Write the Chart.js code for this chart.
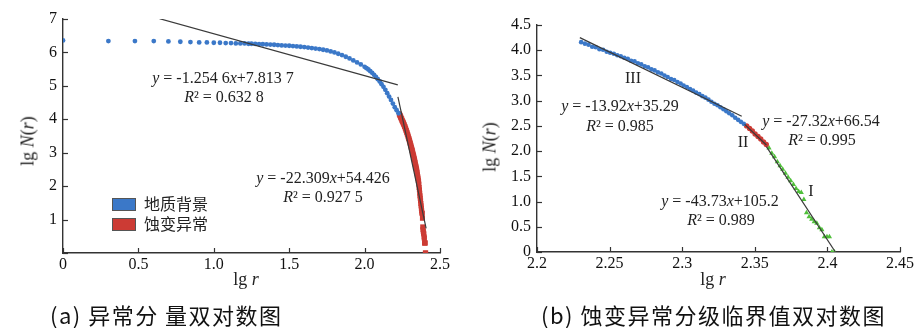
<!DOCTYPE html>
<html>
<head>
<meta charset="utf-8">
<script src="https://cdn.jsdelivr.net/npm/chart.js@4.4.0/dist/chart.umd.min.js"></script>
<style>
    body { margin: 0; background: #fff; }
    #wrap { position: relative; width: 919px; height: 328px; overflow: hidden; font-family: "Liberation Serif", serif; color: #222; }
    canvas { position: absolute; top: 0; }
    .t { position: absolute; font-size: 16px; white-space: nowrap; transform: translate(-50%, -50%); }
    .ax { position: absolute; font-size: 18px; white-space: nowrap; transform: translate(-50%, -50%); }
    .axv { transform: translate(-50%, -50%) rotate(-90deg); }
    .cap { position: absolute; top: 301px; height: 26px; line-height: 26px; font-family: "Noto Sans CJK SC", sans-serif; font-size: 22px; letter-spacing: 1.5px; white-space: nowrap; color: #111; }
    .leg { position: absolute; left: 112px; font-family: "Noto Sans CJK SC", sans-serif; font-size: 16px; color: #222; height: 20px; line-height: 20px; }
    .leg span { display: inline-block; width: 24px; height: 13px; margin-right: 8px; vertical-align: -1px; border: 1px solid #555; box-sizing: border-box; }
</style>
</head>
<body>
<div id="wrap">
    <canvas id="chartA" width="460" height="300" style="left:0"></canvas>
    <canvas id="chartB" width="459" height="300" style="left:460px"></canvas>

    <div class="t" style="left:223px;top:78px"><i>y</i> = -1.254 6<i>x</i>+7.813 7</div>
    <div class="t" style="left:224px;top:97px"><i>R</i>² = 0.632 8</div>
    <div class="t" style="left:323px;top:178px"><i>y</i> = -22.309<i>x</i>+54.426</div>
    <div class="t" style="left:323px;top:197px"><i>R</i>² = 0.927 5</div>
    <div class="leg" style="top:193px"><span style="background:#3b78c8"></span>地质背景</div>
    <div class="leg" style="top:213px"><span style="background:#cc3b34"></span>蚀变异常</div>
    <div class="ax" style="left:246px;top:279px">lg <i>r</i></div>
    <div class="ax axv" style="left:28px;top:141px">lg <i>N</i>(<i>r</i>)</div>

    <div class="t" style="left:633px;top:78px">III</div>
    <div class="t" style="left:620px;top:106px"><i>y</i> = -13.92<i>x</i>+35.29</div>
    <div class="t" style="left:620px;top:126px"><i>R</i>² = 0.985</div>
    <div class="t" style="left:743px;top:142px">II</div>
    <div class="t" style="left:821px;top:121px"><i>y</i> = -27.32<i>x</i>+66.54</div>
    <div class="t" style="left:822px;top:140px"><i>R</i>² = 0.995</div>
    <div class="t" style="left:811px;top:191px">I</div>
    <div class="t" style="left:720px;top:201px"><i>y</i> = -43.73<i>x</i>+105.2</div>
    <div class="t" style="left:721px;top:220px"><i>R</i>² = 0.989</div>
    <div class="ax" style="left:713px;top:279px">lg <i>r</i></div>
    <div class="ax axv" style="left:490px;top:147px">lg <i>N</i>(<i>r</i>)</div>

    <div class="cap" style="left:50px">(a) 异常分 量双对数图</div>
    <div class="cap" style="left:541px">(b) 蚀变异常分级临界值双对数图</div>
</div>
<script>
    const BLUE = "#3b78c8";
    const RED = "#cc3b34";
    const GREEN = "#4fbf3a";
    const LINE = "#3a3a3a";

    // (a) geological background points, lg r up to 2.23
    const headX = [0, 0.301, 0.477, 0.602, 0.699, 0.778, 0.845, 0.903, 0.954, 1.0,
        1.041, 1.079, 1.114, 1.146, 1.176, 1.204, 1.23, 1.25, 1.275, 1.3,
        1.325, 1.35, 1.375, 1.4, 1.425, 1.45, 1.475, 1.5, 1.525, 1.55,
        1.575, 1.6, 1.625, 1.65, 1.675, 1.7, 1.725, 1.75, 1.775, 1.8,
        1.825, 1.85, 1.875, 1.9, 1.925, 1.95, 1.975, 2.0, 2.0125, 2.025,
        2.0375, 2.05, 2.0625, 2.075, 2.0875, 2.1, 2.1125, 2.125, 2.1375, 2.15,
        2.1625, 2.175, 2.1875, 2.2, 2.2125, 2.225];
    const headY = [6.36, 6.34, 6.34, 6.34, 6.33, 6.32, 6.31, 6.30, 6.30, 6.29,
        6.29, 6.28, 6.28, 6.27, 6.27, 6.27, 6.26, 6.26, 6.255, 6.25,
        6.245, 6.24, 6.235, 6.23, 6.22, 6.21, 6.205, 6.20, 6.19, 6.18,
        6.17, 6.16, 6.145, 6.13, 6.115, 6.10, 6.08, 6.06, 6.03, 6.00,
        5.96, 5.92, 5.87, 5.82, 5.76, 5.70, 5.64, 5.57, 5.53, 5.49,
        5.44, 5.39, 5.33, 5.27, 5.20, 5.13, 5.05, 4.97, 4.88, 4.78,
        4.68, 4.58, 4.47, 4.36, 4.27, 4.18];

    // segment III (blue)
    const xIII = [2.2304, 2.2330, 2.2355, 2.2380, 2.2405, 2.2430, 2.2455, 2.2480, 2.2504, 2.2529,
        2.2553, 2.2577, 2.2601, 2.2625, 2.2648, 2.2672, 2.2695, 2.2718, 2.2742, 2.2765,
        2.2788, 2.2810, 2.2833, 2.2856, 2.2878, 2.2900, 2.2923, 2.2945, 2.2967, 2.2989,
        2.3010, 2.3032, 2.3054, 2.3075, 2.3096, 2.3118, 2.3139, 2.3160, 2.3181, 2.3201,
        2.3222, 2.3243, 2.3263, 2.3284, 2.3304, 2.3324, 2.3345, 2.3365, 2.3385, 2.3404, 2.3424];
    const yIII = [4.16, 4.13, 4.11, 4.07, 4.06, 4.02, 4.01, 3.97, 3.95, 3.93,
        3.90, 3.88, 3.85, 3.83, 3.79, 3.78, 3.74, 3.72, 3.68, 3.66,
        3.62, 3.60, 3.56, 3.54, 3.50, 3.47, 3.43, 3.41, 3.37, 3.34,
        3.30, 3.27, 3.23, 3.20, 3.16, 3.13, 3.09, 3.06, 3.02, 2.98,
        2.94, 2.91, 2.87, 2.83, 2.79, 2.75, 2.71, 2.66, 2.62, 2.58, 2.54];

    // segment II (red)
    const xII = [2.3444, 2.3464, 2.3483, 2.3502, 2.3522, 2.3541, 2.3560, 2.3579];
    const yII = [2.50, 2.45, 2.40, 2.34, 2.29, 2.24, 2.18, 2.13];

    // segment I (green)
    const xI = [2.3598, 2.3617, 2.3636, 2.3655, 2.3674, 2.3692, 2.3711, 2.3729, 2.3747, 2.3766,
        2.3784, 2.3802, 2.3820, 2.3838, 2.3856, 2.3874, 2.3892, 2.3909, 2.3927, 2.3945,
        2.3962, 2.3979, 2.3997, 2.4014, 2.4031, 2.4048];
    const yI = [2.06, 1.96, 1.89, 1.79, 1.71, 1.64, 1.56, 1.48, 1.41, 1.34,
        1.26, 1.20, 1.18, 1.04, 0.78, 0.70, 0.65, 0.60, 0.57, 0.48,
        0.44, 0.30, 0.30, 0.30, 0.00, 0.00];

    // fitted lines (end points)
    const fitA1X = [0.64, 2.22], fitA1Y = [7.01, 5.03];
    const fitA2X = [2.221, 2.408], fitA2Y = [4.67, 0.74];
    const fitIIIX = [2.2295, 2.341], fitIIIY = [4.25, 2.69];
    const fitIIX = [2.343, 2.358], fitIIY = [2.53, 2.12];
    const fitIX = [2.358, 2.4055], fitIY = [2.09, 0];

    const pts = (xs, ys) => xs.map((x, i) => ({ x: x, y: ys[i] }));

    const tickFont = { family: "Liberation Serif", size: 16 };

    // tick marks pointing into the plot
    const inwardTicks = {
        id: "inwardTicks",
        afterDraw(chart) {
            const ctx = chart.ctx, a = chart.chartArea;
            const sx = chart.scales.x, sy = chart.scales.y;
            ctx.save();
            ctx.strokeStyle = "#333";
            ctx.lineWidth = 1.2;
            sx.ticks.forEach(t => {
                const px = Math.round(sx.getPixelForValue(t.value)) + 0.5;
                ctx.beginPath(); ctx.moveTo(px, a.bottom); ctx.lineTo(px, a.bottom - 5); ctx.stroke();
            });
            sy.ticks.forEach(t => {
                const py = Math.round(sy.getPixelForValue(t.value)) + 0.5;
                ctx.beginPath(); ctx.moveTo(a.left, py); ctx.lineTo(a.left + 5, py); ctx.stroke();
            });
            ctx.restore();
        }
    };

    function fitLine(xs, ys) {
        return { type: "line", data: pts(xs, ys), borderColor: LINE, borderWidth: 1.2, pointRadius: 0, fill: false, order: 0 };
    }

    function axes(xmin, xmax, xstep, xfmt, ymin, ymax, ystep, yfmt, yw, xh) {
        return {
            x: {
                type: "linear", min: xmin, max: xmax,
                afterFit: s => { s.height = xh; },
                grid: { display: false, drawTicks: false },
                border: { color: "#333", width: 1.4 },
                ticks: { stepSize: xstep, padding: 2, font: tickFont, color: "#111", callback: xfmt, maxRotation: 0 }
            },
            y: {
                min: ymin, max: ymax,
                afterFit: s => { s.width = yw; },
                grid: { display: false, drawTicks: false },
                border: { color: "#333", width: 1.4 },
                ticks: { stepSize: ystep, padding: 6, font: tickFont, color: "#111", callback: yfmt }
            }
        };
    }

    new Chart(document.getElementById("chartA"), {
        type: "scatter",
        data: {
            datasets: [
                fitLine(fitA1X, fitA1Y),
                fitLine(fitA2X, fitA2Y),
                { label: "地质背景", data: pts(headX, headY), pointStyle: "circle", pointRadius: 2.4, backgroundColor: BLUE, borderWidth: 0, order: 1 },
                { label: "蚀变异常", data: pts(xIII.concat(xII, xI), yIII.concat(yII, yI)), pointStyle: "rect", pointRadius: 3.6, backgroundColor: RED, borderWidth: 0, order: 1 }
            ]
        },
        options: {
            responsive: false,
            animation: false,
            layout: { padding: { top: 19, right: 20, left: 0, bottom: 0 } },
            plugins: { legend: { display: false }, tooltip: { enabled: false } },
            scales: axes(0, 2.5, 0.5, v => v === 0 ? "0" : v.toFixed(1),
                0, 7, 1, v => v === 0 ? "" : String(v), 63, 47)
        },
        plugins: [inwardTicks]
    });

    new Chart(document.getElementById("chartB"), {
        type: "scatter",
        data: {
            datasets: [
                fitLine(fitIIIX, fitIIIY),
                fitLine(fitIIX, fitIIY),
                fitLine(fitIX, fitIY),
                { label: "III", data: pts(xIII, yIII), pointStyle: "circle", pointRadius: 2.3, backgroundColor: BLUE, borderWidth: 0, order: 1 },
                { label: "II", data: pts(xII, yII), pointStyle: "circle", pointRadius: 2.7, backgroundColor: RED, borderWidth: 0, order: 1 },
                { label: "I", data: pts(xI, yI), pointStyle: "triangle", pointRadius: 3, backgroundColor: GREEN, borderWidth: 0, order: 1 }
            ]
        },
        options: {
            responsive: false,
            animation: false,
            layout: { padding: { top: 25, right: 19, left: 0, bottom: 0 } },
            plugins: { legend: { display: false }, tooltip: { enabled: false } },
            scales: axes(2.2, 2.45, 0.05, v => String(+v.toFixed(2)),
                0, 4.5, 0.5, v => v === 0 ? "0" : v.toFixed(1), 77, 48)
        },
        plugins: [inwardTicks]
    });
</script>
</body>
</html>
